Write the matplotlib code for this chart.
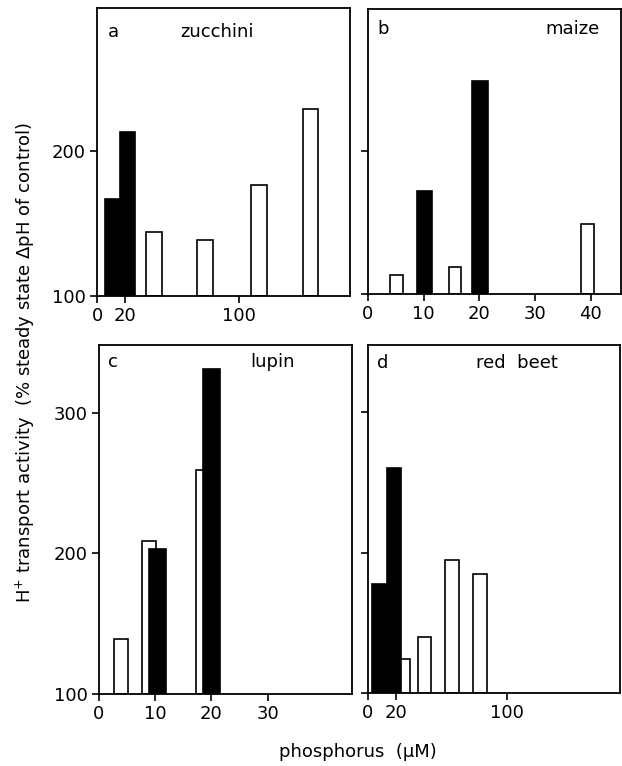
import matplotlib.pyplot as plt

plt.rcParams['font.family'] = ['DejaVu Sans']

# (a) zucchini
a_black_x = [11, 21.5]
a_black_y = [167, 213]
a_white_x = [40, 76, 114, 150]
a_white_y = [144, 139, 177, 229]

# (b) maize
b_black_x = [10.1, 20.1]
b_black_y = [172, 249]
b_white_x = [5.1, 15.6, 39.4]
b_white_y = [113, 119, 149]

# (c) lupin
c_black_x = [10.4, 20.0]
c_black_y = [203, 331]
c_white_x = [4.0, 8.9, 18.6]
c_white_y = [139, 209, 259]

# (d) red beet
d_black_x = [8.4, 18.7]
d_black_y = [178, 260]
d_white_x = [25.4, 40.6, 60.4, 80.3]
d_white_y = [124, 140, 195, 185]

fig = plt.figure(figsize=(6.22, 7.66), dpi=100)

ax_a = fig.add_axes([0.156, 0.6136, 0.407, 0.376])
ax_b = fig.add_axes([0.5916, 0.6162, 0.4068, 0.3718])
ax_c = fig.add_axes([0.159, 0.094, 0.4068, 0.4556])
ax_d = fig.add_axes([0.5916, 0.0953, 0.4052, 0.4543])


def bars(ax, wx, wy, bx, by, ww, bw):
    # open bars first, filled ones drawn over them
    ax.bar(wx, [v - 100 for v in wy], width=ww, bottom=100,
           color='white', edgecolor='black', linewidth=1.2, zorder=2)
    ax.bar(bx, [v - 100 for v in by], width=bw, bottom=100,
           color='black', edgecolor='black', linewidth=1.2, zorder=3)


bars(ax_a, a_white_x, a_white_y, a_black_x, a_black_y, 11, 10.5)
bars(ax_b, b_white_x, b_white_y, b_black_x, b_black_y, 2.2, 2.7)
bars(ax_c, c_white_x, c_white_y, c_black_x, c_black_y, 2.5, 2.9)
bars(ax_d, d_white_x, d_white_y, d_black_x, d_black_y, 9.8, 10.5)

ax_a.set_xlim(0, 178)
ax_a.set_ylim(100, 299)
ax_a.set_xticks([0, 20, 100])
ax_a.set_yticks([100, 200])

ax_b.set_xlim(0, 45.4)
ax_b.set_ylim(100, 299)
ax_b.set_xticks([0, 10, 20, 30, 40])
ax_b.set_yticks([100, 200])
ax_b.set_yticklabels([])

ax_c.set_xlim(0, 45)
ax_c.set_ylim(100, 348)
ax_c.set_xticks([0, 10, 20, 30])
ax_c.set_yticks([100, 200, 300])

ax_d.set_xlim(0, 181)
ax_d.set_ylim(100, 348)
ax_d.set_xticks([0, 20, 100])
ax_d.set_yticks([100, 200, 300])
ax_d.set_yticklabels([])

for ax in (ax_a, ax_b, ax_c, ax_d):
    for s in ax.spines.values():
        s.set_linewidth(1.3)
    ax.tick_params(direction='out', length=5, width=1.2, labelsize=13, pad=3)

ax_a.text(0.063, 0.917, 'a', transform=ax_a.transAxes, fontsize=13, ha='center', va='center')
ax_a.text(0.474, 0.917, 'zucchini', transform=ax_a.transAxes, fontsize=13, ha='center', va='center')
ax_b.text(0.06, 0.93, 'b', transform=ax_b.transAxes, fontsize=13, ha='center', va='center')
ax_b.text(0.81, 0.93, 'maize', transform=ax_b.transAxes, fontsize=13, ha='center', va='center')
ax_c.text(0.055, 0.951, 'c', transform=ax_c.transAxes, fontsize=13, ha='center', va='center')
ax_c.text(0.688, 0.951, 'lupin', transform=ax_c.transAxes, fontsize=13, ha='center', va='center')
ax_d.text(0.06, 0.948, 'd', transform=ax_d.transAxes, fontsize=13, ha='center', va='center')
ax_d.text(0.593, 0.948, 'red  beet', transform=ax_d.transAxes, fontsize=13, ha='center', va='center')

fig.text(0.04, 0.527, 'H$^{+}$ transport activity  (% steady state \u0394pH of control)',
         rotation=90, ha='center', va='center', fontsize=13)
fig.text(0.575, 0.018, 'phosphorus  (\u00b5M)', ha='center', va='center', fontsize=13)

fig.savefig('out.png', dpi=100)
